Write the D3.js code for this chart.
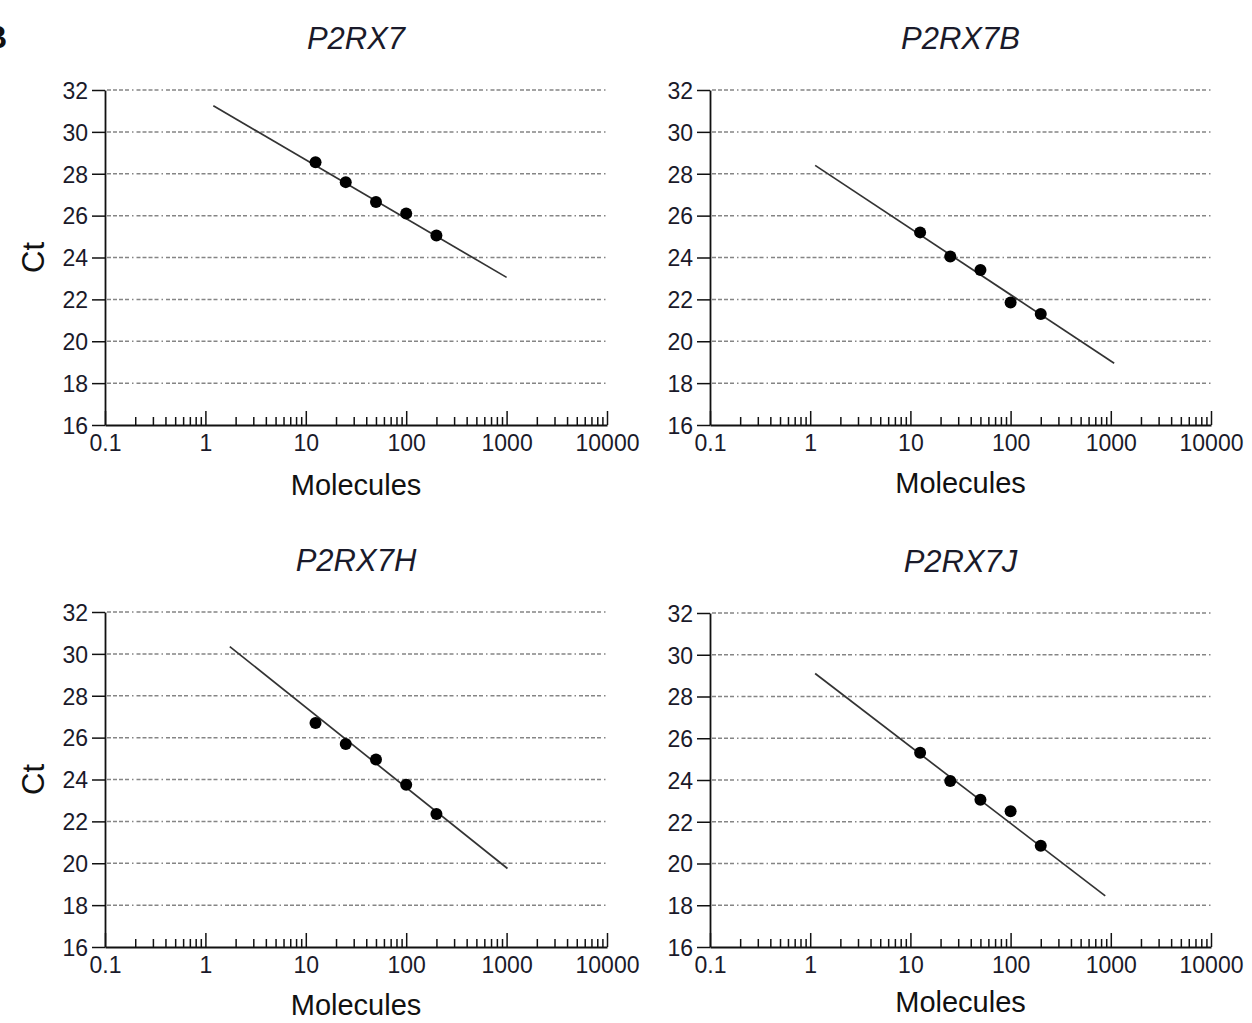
<!DOCTYPE html>
<html>
<head>
<meta charset="utf-8">
<script src="https://cdn.jsdelivr.net/npm/d3@7"></script>
<style>
  body { margin: 0; background: #fff; }
  svg { font-family: "Liberation Sans", Arial, sans-serif; }
</style>
</head>
<body>
<div id="chart"></div>
<script>
// standard curves, Ct vs number of molecules (log x)
const genes = ["P2RX7", "P2RX7B", "P2RX7H", "P2RX7J"];
const molecules = [12.5, 25, 50, 100, 200];

const ctP2RX7  = [28.55, 27.6, 26.65, 26.1, 25.05];
const ctP2RX7B = [25.2, 24.05, 23.4, 21.85, 21.3];
const ctP2RX7H = [26.7, 25.7, 24.95, 23.75, 22.35];
const ctP2RX7J = [25.3, 23.95, 23.05, 22.5, 20.85];

// fitted line end points [molecules, Ct]
const fitP2RX7  = [[1.2, 31.25], [1000, 23.05]];
const fitP2RX7B = [[1.12, 28.4], [1080, 18.95]];
const fitP2RX7H = [[1.75, 30.35], [1020, 19.75]];
const fitP2RX7J = [[1.12, 29.1], [880, 18.45]];

const xTicks = [0.1, 1, 10, 100, 1000, 10000];
const yTicks = [16, 18, 20, 22, 24, 26, 28, 30, 32];

const ctData = [ctP2RX7, ctP2RX7B, ctP2RX7H, ctP2RX7J];
const fits = [fitP2RX7, fitP2RX7B, fitP2RX7H, fitP2RX7J];

// panel boxes (plot area)
const panels = [
  { left: 105, right: 607, top: 90,  bottom: 425, molY: 495 },
  { left: 710, right: 1211, top: 90, bottom: 425, molY: 493 },
  { left: 105, right: 607, top: 612, bottom: 947, molY: 1015 },
  { left: 710, right: 1211, top: 613, bottom: 947, molY: 1012 }
];

const svg = d3.select("#chart").append("svg")
    .attr("width", 1252)
    .attr("height", 1023);

// panel letter, cut at the page edge like the source
svg.append("text")
    .attr("x", -16)
    .attr("y", 48)
    .style("font-size", "32px")
    .style("font-weight", "bold")
    .attr("fill", "#111")
    .text("B");

genes.forEach((gene, k) => {
  const p = panels[k];

  const x = d3.scaleLog()
      .domain([0.1, 10000])
      .range([p.left, p.right]);

  const y = d3.scaleLinear()
      .domain([16, 32])
      .range([p.bottom, p.top]);

  const g = svg.append("g");

  // dashed grid
  g.selectAll(".grid")
      .data(yTicks.filter(d => d > 16))
      .enter()
      .append("line")
      .attr("x1", p.left + 2)
      .attr("x2", p.right)
      .attr("y1", d => y(d))
      .attr("y2", d => y(d))
      .attr("stroke", "#858585")
      .attr("stroke-width", 1.5)
      .attr("stroke-dasharray", "4,2,4,2,4,2,4,3,1.5,3");

  // y axis
  const ya = g.append("g")
      .attr("transform", `translate(${p.left},0)`)
      .call(d3.axisLeft(y).tickValues(yTicks).tickSizeInner(13).tickSizeOuter(0).tickPadding(4));
  ya.selectAll("text").style("font-size", "23px").attr("fill", "#1a1a2a").attr("dy", "0.36em");

  // x axis minor ticks, pointing up
  const minor = x.ticks().filter(d => !xTicks.includes(d));
  const xm = g.append("g")
      .attr("transform", `translate(0,${p.bottom})`)
      .call(d3.axisBottom(x).tickValues(minor).tickSizeInner(-8).tickSizeOuter(0).tickFormat(""));
  xm.select(".domain").remove();

  // x axis major ticks
  const xa = g.append("g")
      .attr("transform", `translate(0,${p.bottom})`)
      .call(d3.axisBottom(x).tickValues(xTicks).tickSizeInner(-14).tickSizeOuter(0)
        .tickPadding(10).tickFormat(d3.format("")));
  xa.selectAll("text").style("font-size", "23px").attr("fill", "#1a1a2a");

  svg.selectAll(".domain").attr("stroke-width", 1.8).attr("stroke", "#111");
  g.selectAll(".tick line").attr("stroke-width", 1.5).attr("stroke", "#111");

  // fitted line
  g.append("path")
      .datum(fits[k])
      .attr("fill", "none")
      .attr("stroke", "#333")
      .attr("stroke-width", 1.7)
      .attr("d", d3.line().x(d => x(d[0])).y(d => y(d[1])));

  // points
  g.selectAll(".pt")
      .data(ctData[k])
      .enter()
      .append("circle")
      .attr("cx", (d, i) => x(molecules[i]))
      .attr("cy", d => y(d))
      .attr("r", 6)
      .attr("fill", "#000");

  // title
  g.append("text")
      .attr("x", (p.left + p.right) / 2)
      .attr("y", p.top - 41)
      .attr("text-anchor", "middle")
      .style("font-size", "31px")
      .style("font-style", "italic")
      .attr("fill", "#1a1a2a")
      .text(gene);

  // x title
  g.append("text")
      .attr("x", (p.left + p.right) / 2)
      .attr("y", p.molY)
      .attr("text-anchor", "middle")
      .style("font-size", "29px")
      .attr("fill", "#111")
      .text("Molecules");

  // y title, left column only
  if (k % 2 === 0) {
    g.append("text")
        .attr("transform", `translate(44,${(p.top + p.bottom) / 2}) rotate(-90)`)
        .attr("text-anchor", "middle")
        .style("font-size", "31px")
        .attr("fill", "#111")
        .text("Ct");
  }
});
</script>
</body>
</html>
